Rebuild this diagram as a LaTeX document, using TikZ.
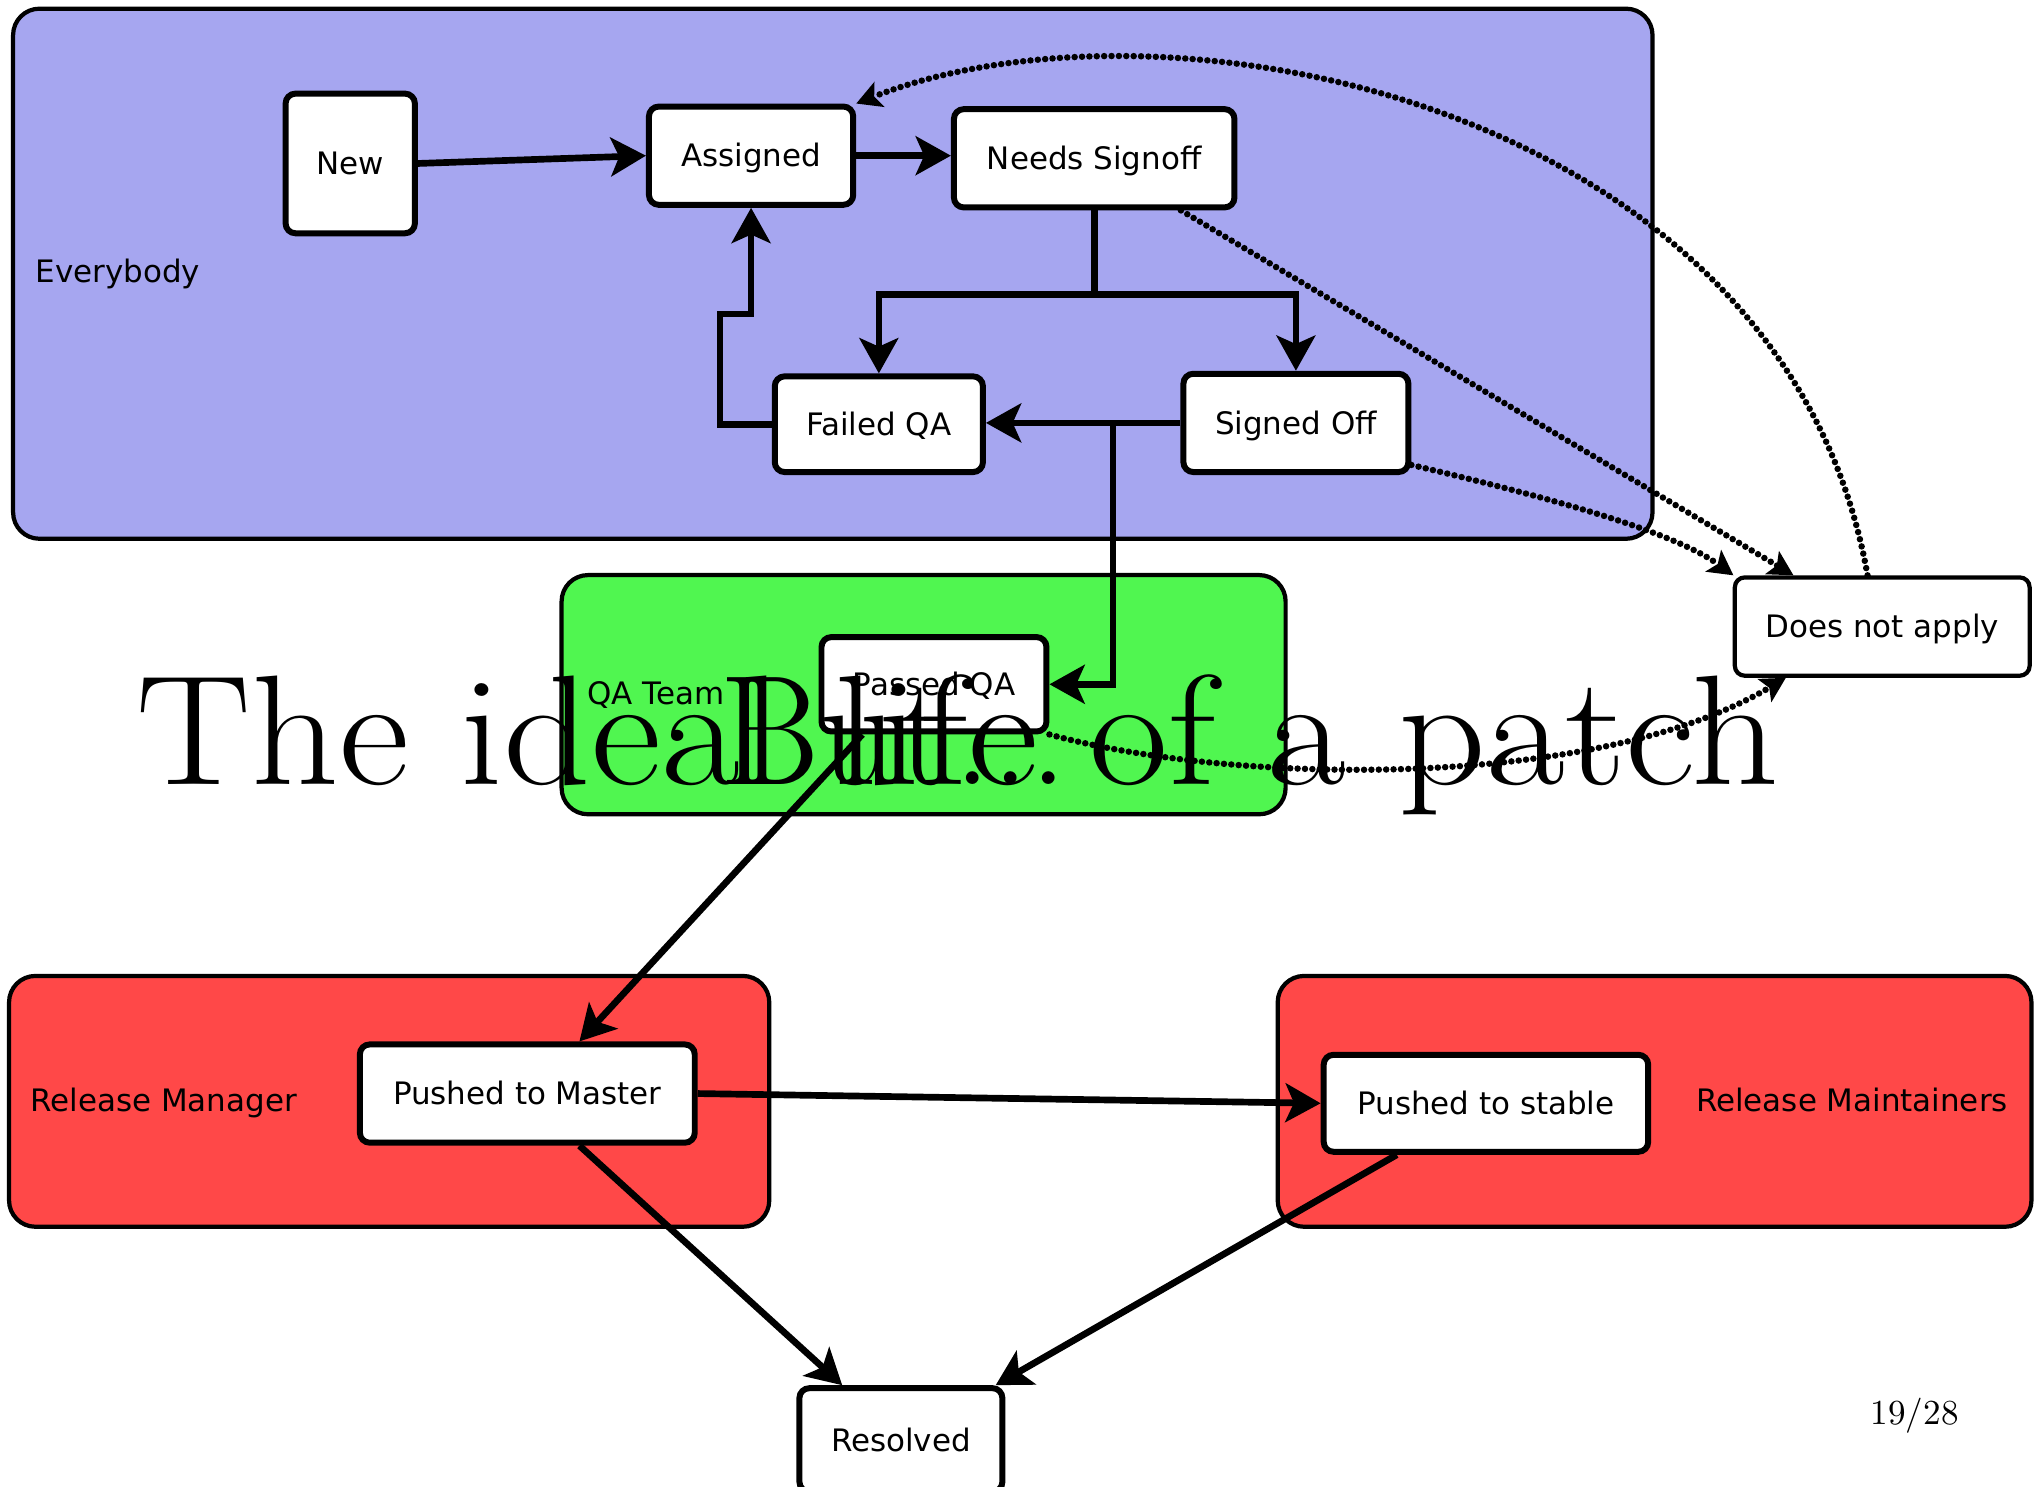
\documentclass[tikz,border=0pt]{standalone}
\usepackage{fontspec}
\newfontfamily\dvs{DejaVu Sans}
\usetikzlibrary{arrows.meta}
\definecolor{everyfill}{RGB}{166,166,240}
\definecolor{qafill}{RGB}{80,246,80}
\definecolor{relfill}{RGB}{255,72,72}
\def\pxu{0.3678pt}
\begin{document}
\begin{tikzpicture}[x=0.012972cm, y=-0.012972cm,
  state/.style={draw, line width=1.7pt, rounded corners=2.8pt, fill=white, inner sep=0pt,
    font=\dvs\fontsize{8.8}{10}\selectfont, text height=6.4pt, text depth=0pt},
  grp/.style={draw, line width=1.2pt, rounded corners=7.5pt, inner sep=0pt},
  grplabel/.style={font=\dvs\fontsize{8.8}{10}\selectfont, inner sep=0pt, anchor=base west},
  flow/.style={line width=1.9pt, -{Stealth[length=10pt,width=11pt,inset=2.4pt]}},
  dots/.style={line width=1.85pt, line cap=round, dash pattern=on 0pt off 2.1pt,
    -{Stealth[length=7pt,width=7.5pt,inset=1.5pt]}},
  titlefont/.style={font=\fontsize{44.5}{50}\selectfont, inner sep=0pt, anchor=base west},
]
\useasboundingbox (0,0) rectangle (1568,1146);
\clip (0,0) rectangle (1568,1146);
\fill[white] (0,0) rectangle (1568,1146);

% groups
\node[grp, fill=everyfill, minimum width={1268*\pxu}, minimum height={410*\pxu}] (everybody) at (642,211) {};
\node[grp, fill=qafill, minimum width={560*\pxu}, minimum height={185*\pxu}] (qateam) at (712,535.5) {};
\node[grp, fill=relfill, minimum width={588*\pxu}, minimum height={194*\pxu}] (relman) at (300,849) {};
\node[grp, fill=relfill, minimum width={583*\pxu}, minimum height={194*\pxu}] (relmaint) at (1275.5,849) {};

\node[grplabel] (lbleverybody) at (27,218) {Everybody};
\node[grplabel] (lblqa) at (452,543) {QA Team};
\node[grplabel] (lblrelman) at (23,857) {Release Manager};
\node[grplabel] (lblrelmaint) at (1307,857) {Release Maintainers};

% states
\node[state, minimum width={100*\pxu}, minimum height={108*\pxu}] (New) at (270,126) {New};
\node[state, minimum width={158*\pxu}, minimum height={76*\pxu}] (Assigned) at (579,120) {Assigned};
\node[state, minimum width={217*\pxu}, minimum height={76*\pxu}] (NeedsSignoff) at (843.5,122) {Needs Signoff};
\node[state, minimum width={161*\pxu}, minimum height={74*\pxu}] (FailedQA) at (677.5,327) {Failed QA};
\node[state, minimum width={174*\pxu}, minimum height={76*\pxu}] (SignedOff) at (999,326) {Signed Off};
\node[state, minimum width={174*\pxu}, minimum height={73*\pxu}] (PassedQA) at (720,527.5) {Passed QA};
\node[state, line width=1.2pt, minimum width={228*\pxu}, minimum height={76*\pxu}] (DoesNotApply) at (1451,483) {Does not apply};
\node[state, minimum width={259*\pxu}, minimum height={76*\pxu}] (PushedMaster) at (406.5,843) {Pushed to Master};
\node[state, minimum width={251*\pxu}, minimum height={75*\pxu}] (PushedStable) at (1145.5,850.5) {Pushed to stable};
\node[state, minimum width={157*\pxu}, minimum height={80*\pxu}] (Resolved) at (694.5,1110) {Resolved};

% solid connectors
\draw[flow] (New.east) -- (Assigned.west);
\draw[flow] (Assigned.east) -- (Assigned.east -| NeedsSignoff.west);
\draw[flow] (NeedsSignoff.south) -- ++(0,65) -| (FailedQA.north);
\draw[flow] (NeedsSignoff.south) -- ++(0,65) -| (SignedOff.north);
\draw[flow] (FailedQA.west) -- ++(-40,0) -- ++(0,-85) -| (Assigned.south);
\draw[flow] (SignedOff.west) -- (SignedOff.west -| FailedQA.east);
\draw[flow] (SignedOff.west) -- ++(-52,0) |- (PassedQA.east);
\draw[flow] (PassedQA.-145) -- (PushedMaster.45);
\draw[flow] (PushedMaster.east) -- (PushedStable.west);
\draw[flow] (PushedMaster.-45) -- (Resolved.137);
\draw[flow] (PushedStable.-150) -- (Resolved.30);

% dotted connectors
\draw[dots] (NeedsSignoff.-31.7) -- (DoesNotApply.150);
\draw[dots] (SignedOff.-20) .. controls (1200,385) and (1290,410) .. (DoesNotApply.161);
\draw[dots] (DoesNotApply.106) .. controls (1375,80) and (900,-15) .. (Assigned.north east);
\draw[dots] (PassedQA.south east) .. controls (950,605) and (1230,610) .. (DoesNotApply.-152);

% titles
\node[titlefont] (title) at (105,605) {\resizebox{467.1pt}{\height}{The ideal life of a patch}};
\node[titlefont] (but) at (554,605) {\resizebox{99.3pt}{\height}{But...}};
\node[font=\fontsize{10}{12}\selectfont, inner sep=0pt, anchor=base] (pagenum) at (1476,1098) {19/28};
\end{tikzpicture}
\end{document}
